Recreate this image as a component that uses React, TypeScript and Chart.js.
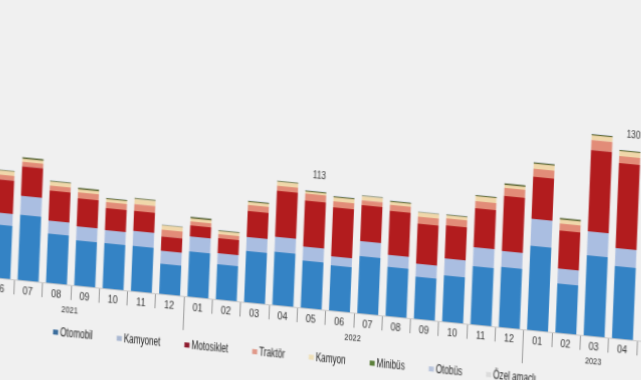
import React, { useEffect, useRef } from "react";
import { Chart, registerables } from "chart.js";

Chart.register(...registerables);

// Categories: months (May 2021 – May 2023) and their year groups
const months = [
  "05", "06", "07", "08", "09", "10", "11", "12",
  "01", "02", "03", "04", "05", "06", "07", "08", "09", "10", "11", "12",
  "01", "02", "03", "04", "05",
];
const yearNames = ["2021", "2022", "2023"];
const yearCounts = [8, 12, 5];

// Series values (thousand vehicles); null = outside the photographed area
const otomobil = [null, 36.6, 44.8, 33.8, 31.0, 31.0, 31.0, 20.7, 31.0, 24.1, 35.2, 36.6, 32.4, 31.0, 39.3, 33.8, 29.0, 31.7, 40.0, 41.4, 57.9, 33.8, 55.2, 49.7, null];
const kamyonet = [null, 8.3, 13.1, 9.0, 9.7, 9.0, 10.3, 9.0, 10.3, 7.6, 9.7, 10.3, 9.7, 6.2, 10.3, 8.3, 9.0, 11.7, 13.1, 11.0, 18.6, 10.3, 16.6, 12.4, null];
const motosiklet = [null, 22.8, 20.3, 20.7, 19.3, 15.2, 13.8, 9.7, 7.6, 10.3, 17.9, 31.7, 31.7, 33.8, 24.8, 30.3, 27.6, 22.8, 26.9, 37.9, 29.0, 26.2, 55.9, 58.6, null];
const traktor = [null, 3.4, 3.1, 3.4, 4.1, 4.1, 4.8, 4.8, 2.8, 2.8, 4.1, 3.4, 4.8, 4.1, 3.4, 4.1, 4.8, 4.8, 4.8, 5.5, 5.5, 4.8, 6.9, 4.8, null];
const kamyon = [null, 2.8, 2.1, 2.8, 2.1, 2.1, 3.4, 2.8, 2.1, 2.1, 2.1, 2.8, 1.4, 2.8, 2.8, 2.1, 2.8, 2.1, 3.4, 2.1, 3.4, 2.8, 3.4, 3.4, null];
const minibus = [null, 0.5, 1.0, 0.5, 1.0, 0.6, 0.6, 0.5, 1.0, 0.6, 0.7, 0.5, 0.7, 0.7, 0.5, 0.7, 0.5, 0.5, 0.7, 1.0, 1.0, 1.0, 0.7, 0.7, null];
const otobus = [null, 0.3, 0.3, 0.3, 0.3, 0.3, 0.3, 0.3, 0.3, 0.3, 0.3, 0.3, 0.3, 0.3, 0.3, 0.3, 0.3, 0.3, 0.3, 0.3, 0.3, 0.3, 0.3, 0.3, null];
const ozelAmacli = [null, 0.2, 0.2, 0.2, 0.2, 0.2, 0.2, 0.2, 0.2, 0.2, 0.2, 0.2, 0.2, 0.2, 0.2, 0.2, 0.2, 0.2, 0.2, 0.2, 0.2, 0.2, 0.2, 0.2, null];

// Value labels printed above some bars
const barLabels = [null, null, null, null, null, null, null, null, null, null, null, null, "113", null, null, null, null, null, null, null, null, null, null, "130", null];

const seriesNames = ["Otomobil", "Kamyonet", "Motosiklet", "Traktör", "Kamyon", "Minibüs", "Otobüs", "Özel amaçlı"];
const seriesData = [otomobil, kamyonet, motosiklet, traktor, kamyon, minibus, otobus, ozelAmacli];
const seriesColors = ["#3483c5", "#aabee1", "#b21c1e", "#e28c78", "#f0d7aa", "#5f6932", "#c3cde6", "#e2e2e2"];
const legendColors = ["#3b6d9c", "#aab8d2", "#8e1b2e", "#e0998a", "#efe0b8", "#5b7f3a", "#b8c4dc", "#dcdcdc"];

const FONT = '"Liberation Sans", Arial, sans-serif';

function drawText(ctx: CanvasRenderingContext2D, text: string, x: number, y: number, size: number, color: string, align: "left" | "center", narrow = 0.82) {
  ctx.save();
  ctx.font = `${size}px ${FONT}`;
  ctx.fillStyle = color;
  ctx.textBaseline = "middle";
  ctx.textAlign = align;
  ctx.translate(x, y);
  ctx.scale(narrow, 1);
  ctx.fillText(text, 0, 0);
  ctx.restore();
}

function textWidth(ctx: CanvasRenderingContext2D, text: string, size: number, narrow = 0.82) {
  ctx.save();
  ctx.font = `${size}px ${FONT}`;
  const w = ctx.measureText(text).width * narrow;
  ctx.restore();
  return w;
}

const overlay = {
  id: "overlay",
  afterDatasetsDraw(chart: any) {
    const ctx: CanvasRenderingContext2D = chart.ctx;
    const xs = chart.scales.x;
    const ys = chart.scales.y;
    const base = ys.getPixelForValue(0);
    const n = months.length;
    const step = xs.getPixelForValue(1) - xs.getPixelForValue(0);

    ctx.save();
    // axis line
    ctx.strokeStyle = "#c8c8c8";
    ctx.lineWidth = 1;
    ctx.beginPath();
    ctx.moveTo(xs.left, base + 0.5);
    ctx.lineTo(xs.right, base + 0.5);
    ctx.stroke();

    // year boundaries
    const boundaries = new Set<number>();
    let acc = 0;
    yearCounts.forEach((c) => {
      boundaries.add(acc);
      acc += c;
      boundaries.add(acc);
    });

    // separators
    ctx.strokeStyle = "#9a9a9a";
    for (let k = 0; k <= n; k++) {
      const x = Math.round(xs.getPixelForValue(k) - step / 2) + 0.5;
      const len = boundaries.has(k) ? 34 : 15;
      ctx.beginPath();
      ctx.moveTo(x, base + 1);
      ctx.lineTo(x, base + len);
      ctx.stroke();
    }
    ctx.restore();

    // month labels
    months.forEach((m, i) => {
      drawText(ctx, m, xs.getPixelForValue(i), base + 11, 11, "#333333", "center");
    });

    // year labels
    let start = 0;
    yearNames.forEach((y, gi) => {
      const end = start + yearCounts[gi] - 1;
      const cx = (xs.getPixelForValue(start) + xs.getPixelForValue(end)) / 2;
      drawText(ctx, y, cx, base + 26, 9, "#333333", "center");
      start = end + 1;
    });

    // value labels
    barLabels.forEach((lab, i) => {
      if (!lab) return;
      let total = 0;
      seriesData.forEach((d) => (total += d[i] || 0));
      const y = ys.getPixelForValue(total);
      drawText(ctx, lab, xs.getPixelForValue(i) + 3, y - 15, 10, "#333333", "center");
    });

    // legend
    let lx = 115;
    const ly = base + 49;
    seriesNames.forEach((name, i) => {
      ctx.save();
      ctx.fillStyle = legendColors[i];
      ctx.fillRect(lx, ly - 3, 5, 5);
      ctx.restore();
      drawText(ctx, name, lx + 7, ly, 12, "#222222", "left", 0.68);
      lx += 7 + textWidth(ctx, name, 12, 0.68) + 24;
    });
  },
};

export default function App() {
  const ref = useRef<HTMLCanvasElement>(null);

  useEffect(() => {
    if (!ref.current) return;
    const chart = new Chart(ref.current, {
      type: "bar",
      data: {
        labels: months,
        datasets: seriesNames.map((name, i) => ({
          label: name,
          data: seriesData[i] as any,
          backgroundColor: seriesColors[i],
          borderWidth: 0,
          barPercentage: 0.74,
          categoryPercentage: 1,
          stack: "all",
        })),
      },
      options: {
        animation: false,
        responsive: false,
        devicePixelRatio: 1,
        layout: { padding: { left: 17.35, right: 35.15, top: 17, bottom: 122 } },
        plugins: { legend: { display: false }, tooltip: { enabled: false } },
        scales: {
          x: { stacked: true, display: false },
          y: { stacked: true, display: false, min: 0, max: 180 },
        },
      },
      plugins: [overlay],
    });
    return () => chart.destroy();
  }, []);

  return (
    <div style={{ position: "fixed", inset: 0, overflow: "hidden", background: "#f0f0f0" }}>
      <div
        style={{
          position: "absolute",
          left: -60,
          top: 0,
          width: 760,
          height: 400,
          transform: "matrix(1, 0.098, -0.04, 1, 0, 0)",
          transformOrigin: "60px 278px",
        }}
      >
        <canvas ref={ref} width={760} height={400} style={{ display: "block" }} />
      </div>
    </div>
  );
}
